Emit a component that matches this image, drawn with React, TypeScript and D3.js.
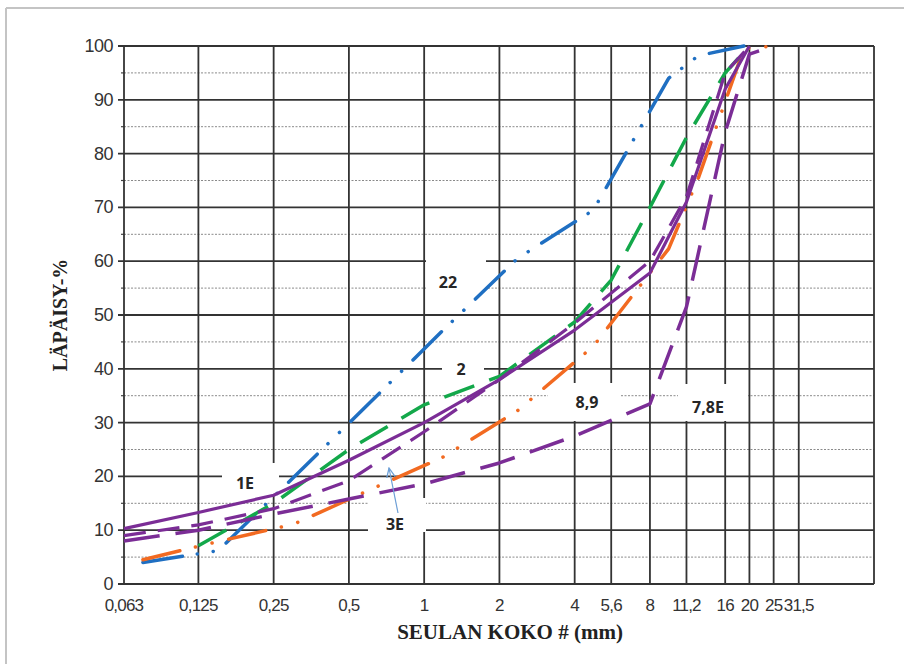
import React from "react";
import * as d3 from "d3";

const W = 904;
const H = 664;
const left = 124, right = 874, top = 46, bottom = 584;

// seulakoot ja tekstit x-akselilla
const sieveTicks = [0.063, 0.125, 0.25, 0.5, 1, 2, 4, 5.6, 8, 11.2, 16, 20, 25, 31.5];
const sieveLabels = ["0,063", "0,125", "0,25", "0,5", "1", "2", "4", "5,6", "8", "11,2", "16", "20", "25", "31,5"];
const yMajor = [0, 10, 20, 30, 40, 50, 60, 70, 80, 90, 100];
const yMinor = [5, 15, 25, 35, 45, 55, 65, 75, 85, 95];

// käyrät (seula mm, läpäisy %)
const sizes22 = [0.075, 0.15, 0.3, 0.6, 1.18, 2.36, 4.75, 9.5, 12.5, 19];
const pass22 = [4.0, 6.2, 19.8, 33.5, 47.0, 60.5, 69.5, 94, 98.2, 100];

const sizes89 = [0.075, 0.15, 0.3, 0.6, 1.18, 2.36, 4.75, 9.5, 12.5, 19, 25];
const pass89 = [4.5, 7.9, 11.1, 17.4, 23.5, 32.2, 44.2, 62.3, 75.5, 99.5, 100];

const sizes2 = [0.125, 0.25, 0.5, 1, 2, 4, 5.6, 8, 11.2, 16, 20];
const pass2 = [7.1, 15, 25, 33.3, 38.6, 48.7, 56.5, 70, 83, 95, 100];

const sizes78E = [0.063, 0.125, 0.25, 0.5, 1, 2, 4, 8, 11.2, 16, 20, 25];
const pass78E = [8, 10, 13, 15.8, 18.6, 22.5, 27.5, 33.5, 51.5, 84, 98.5, 100];

const sizes3E = [0.063, 0.125, 0.25, 0.5, 1, 2, 4, 8, 11.2, 16, 20];
const pass3E = [9, 11, 14, 19.2, 28.3, 38, 48.5, 60, 72, 95, 100];

const sizes1E = [0.063, 0.125, 0.25, 0.5, 1, 2, 4, 8, 11.2, 16, 20];
const pass1E = [10.3, 13.3, 16.5, 23, 30, 38, 47.2, 57.8, 71, 92, 100];

const series = [
  {name: "22", x: sizes22, y: pass22, color: "#1f6fc2", width: 3.5, dash: "40 15 0.1 16 0.1 16", cap: "round"},
  {name: "8,9", x: sizes89, y: pass89, color: "#f26a21", width: 3.5, dash: "38 16 0.1 17 0.1 17", cap: "round"},
  {name: "2", x: sizes2, y: pass2, color: "#13a84a", width: 3.5, dash: "32 16", cap: "butt"},
  {name: "7,8E", x: sizes78E, y: pass78E, color: "#7b2d96", width: 3.5, dash: "36 16", cap: "butt"},
  {name: "3E", x: sizes3E, y: pass3E, color: "#7b2d96", width: 3.2, dash: "22 12", cap: "butt"},
  {name: "1E", x: sizes1E, y: pass1E, color: "#7b2d96", width: 3.2, dash: null, cap: "butt"},
];

// tekstilaatikot
const notes = [
  {t: "22", cx: 448, cy: 282, bx: 426, by: 257, bw: 60, bh: 42},
  {t: "2", cx: 461, cy: 369, bx: 442, by: 355, bw: 42, bh: 28},
  {t: "8,9", cx: 587, cy: 402, bx: 548, by: 383, bw: 72, bh: 38},
  {t: "7,8E", cx: 708, cy: 407, bx: 678, by: 384, bw: 70, bh: 37},
  {t: "1E", cx: 245, cy: 483, bx: 222, by: 463, bw: 57, bh: 33},
  {t: "3E", cx: 395, cy: 524, bx: 368, by: 498, bw: 58, bh: 34},
];

export default function App() {
  const x = d3.scaleLog().domain([0.063, 63]).range([left, right]);
  const y = d3.scaleLinear().domain([0, 100]).range([bottom, top]);

  const line = d3.line<[number, number]>()
    .x(d => x(d[0]))
    .y(d => y(d[1]));

  const tickFont = "Liberation Sans, Arial, sans-serif";

  return (
    <svg width={W} height={H} style={{position: "absolute", left: 0, top: 0, background: "#fff"}}>
      {/* kuvan reuna */}
      <line x1={6} y1={8} x2={W} y2={8} stroke="#c4c4c4" strokeWidth={2} />
      <line x1={6} y1={8} x2={6} y2={H} stroke="#c4c4c4" strokeWidth={2} />

      {/* apuviivat */}
      {yMinor.map(v => (
        <g key={"mi" + v}>
          <line x1={left} x2={right} y1={y(v)} y2={y(v)} stroke="#8a8a8a" strokeWidth={1} strokeDasharray="2 1.5" />
          <line x1={left - 3} x2={left} y1={y(v)} y2={y(v)} stroke="#444" strokeWidth={1.2} />
        </g>
      ))}
      {yMajor.map(v => (
        <line key={"ma" + v} x1={left - 6} x2={right} y1={y(v)} y2={y(v)} stroke="#333" strokeWidth={1.8} />
      ))}
      {sieveTicks.map(s => (
        <line key={"v" + s} x1={x(s)} x2={x(s)} y1={top} y2={bottom} stroke="#333" strokeWidth={1.8} />
      ))}
      <line x1={right} x2={right} y1={top} y2={bottom} stroke="#333" strokeWidth={1.8} />

      {/* tekstien taustat */}
      {notes.map(n => (
        <rect key={"b" + n.t} x={n.bx} y={n.by} width={n.bw} height={n.bh} fill="#fff" />
      ))}

      {/* käyrät */}
      {series.map(s => (
        <path
          key={s.name}
          d={line(s.x.map((v, i) => [v, s.y[i]] as [number, number])) || ""}
          fill="none"
          stroke={s.color}
          strokeWidth={s.width}
          strokeDasharray={s.dash || undefined}
          strokeLinecap={s.cap as any}
          strokeLinejoin="round"
        />
      ))}

      {/* nuoli 3E */}
      <defs>
        <marker id="arr" viewBox="0 0 10 10" refX="9" refY="5" markerWidth="9" markerHeight="9" orient="auto">
          <path d="M0,1 L9,5 L0,9" fill="none" stroke="#6d9fd6" strokeWidth={1.2} />
        </marker>
      </defs>
      <line x1={398} y1={513} x2={389} y2={468} stroke="#6d9fd6" strokeWidth={1.2} markerEnd="url(#arr)" />

      {/* käyrien nimet */}
      {notes.map(n => (
        <text key={"t" + n.t} x={n.cx} y={n.cy} textAnchor="middle" dominantBaseline="central"
          fontFamily="Open Sans, sans-serif" fontWeight={700} fontSize={16} fill="#262626">{n.t}</text>
      ))}

      {/* akselien tekstit */}
      {yMajor.map(v => (
        <text key={"yl" + v} x={113} y={y(v)} textAnchor="end" dominantBaseline="central"
          fontFamily={tickFont} fontSize={18} letterSpacing={-0.5} fill="#333">{v}</text>
      ))}
      {sieveTicks.map((s, i) => (
        <text key={"xl" + s} x={x(s)} y={611} textAnchor="middle"
          fontFamily={tickFont} fontSize={17} letterSpacing={-0.8} fill="#333">{sieveLabels[i]}</text>
      ))}
      <text x={510} y={639} textAnchor="middle" fontFamily="Liberation Serif, Times New Roman, serif"
        fontWeight={700} fontSize={21} fill="#222">SEULAN KOKO # (mm)</text>
      <text transform="translate(60,315) rotate(-90)" textAnchor="middle" dominantBaseline="central"
        fontFamily="Liberation Serif, Times New Roman, serif" fontWeight={700} fontSize={20} fill="#222">LÄPÄISY-%</text>
    </svg>
  );
}
